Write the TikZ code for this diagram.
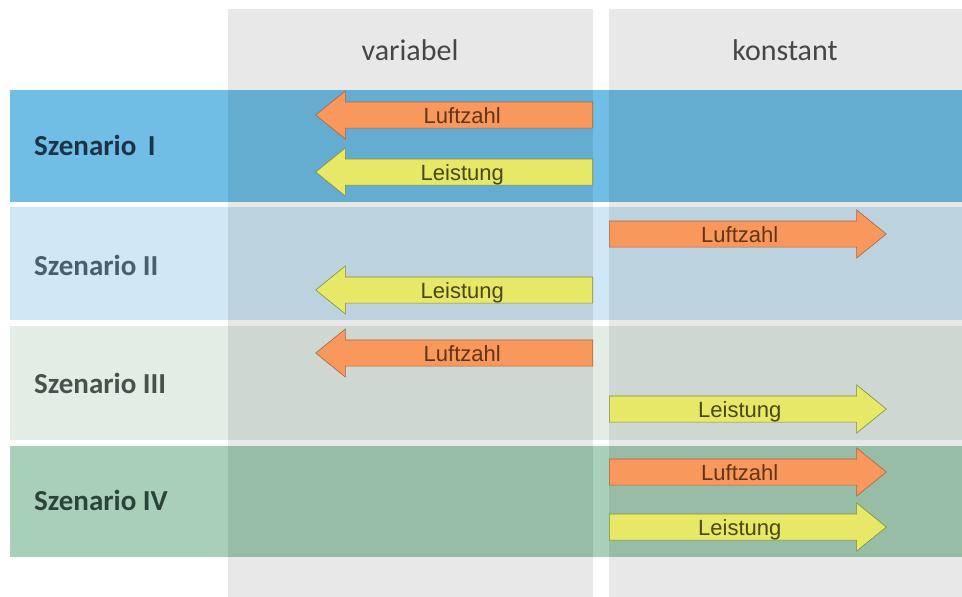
\documentclass[tikz,border=0pt]{standalone}
\usepackage{fontspec}
\setmainfont{Carlito}
\newfontfamily\arrfont{Liberation Sans}
\usetikzlibrary{shapes.arrows}
\definecolor{rowA}{RGB}{112,190,230}
\definecolor{rowB}{RGB}{208,231,246}
\definecolor{rowC}{RGB}{227,237,230}
\definecolor{rowD}{RGB}{168,208,184}
\definecolor{orangeF}{RGB}{248,152,92}
\definecolor{orangeD}{RGB}{170,100,60}
\definecolor{yellowF}{RGB}{232,232,104}
\definecolor{yellowD}{RGB}{130,140,60}
\definecolor{luftT}{RGB}{100,52,20}
\definecolor{leisT}{RGB}{72,72,20}
\definecolor{hdrT}{RGB}{70,70,70}
\definecolor{sA}{RGB}{28,51,71}
\definecolor{sB}{RGB}{74,95,110}
\definecolor{sC}{RGB}{70,83,77}
\definecolor{sD}{RGB}{43,68,55}
\tikzset{
  rowbox/.style={fill=#1, draw=none},
  colbox/.style={fill=black, fill opacity=0.09, draw=none},
  scen/.style={anchor=west, font=\bfseries\fontsize{29}{33}\selectfont, text=#1, inner sep=0pt},
  hdr/.style={font=\fontsize{30}{34}\selectfont, text=hdrT, inner sep=0pt},
  arrbase/.style={single arrow, line width=0.6pt, minimum height=277pt,
    single arrow head extend=11pt, single arrow tip angle=78,
    inner xsep=0pt, inner ysep=4.5pt, text height=16.25pt, text depth=0.25pt,
    font=\arrfont\fontsize{22}{26}\selectfont},
  luftL/.style={arrbase, fill=orangeF, draw=orangeD, text=luftT, shape border rotate=180, anchor=tail},
  leisL/.style={arrbase, fill=yellowF, draw=yellowD, text=leisT, shape border rotate=180, anchor=tail},
  luftR/.style={arrbase, fill=orangeF, draw=orangeD, text=luftT, anchor=tail},
  leisR/.style={arrbase, fill=yellowF, draw=yellowD, text=leisT, anchor=tail}
}
\begin{document}
\begin{tikzpicture}[x=1pt,y=-1pt]
\useasboundingbox (0,0) rectangle (962,597);
\fill[white] (0,0) rectangle (962,597);
% rows
\fill[rowbox=rowA] (10,90) rectangle (962,202);
\fill[rowbox=rowB] (10,207) rectangle (962,320);
\fill[rowbox=rowC] (10,326) rectangle (962,440);
\fill[rowbox=rowD] (10,446) rectangle (962,557);
% columns
\fill[colbox] (228,9) rectangle (593,597);
\fill[colbox] (609,9) rectangle (962,597);
% headers
\node[hdr] (hvar) at (410,50) {variabel};
\node[hdr] (hkon) at (785,50) {konstant};
% scenario labels
\node[scen=sA] (s1) at (34,145) {Szenario\, I};
\node[scen=sB] (s2) at (34,265) {Szenario II};
\node[scen=sC] (s3) at (34,383) {Szenario III};
\node[scen=sD] (s4) at (34,500) {Szenario IV};
% arrows
\node[luftL] (a1) at (593,115) {Luftzahl};
\node[leisL] (a2) at (593,172) {Leistung};
\node[luftR] (a3) at (609,234) {Luftzahl};
\node[leisL] (a4) at (593,290) {Leistung};
\node[luftL] (a5) at (593,353) {Luftzahl};
\node[leisR] (a6) at (609,409) {Leistung};
\node[luftR] (a7) at (609,472) {Luftzahl};
\node[leisR] (a8) at (609,527) {Leistung};
\end{tikzpicture}
\end{document}
